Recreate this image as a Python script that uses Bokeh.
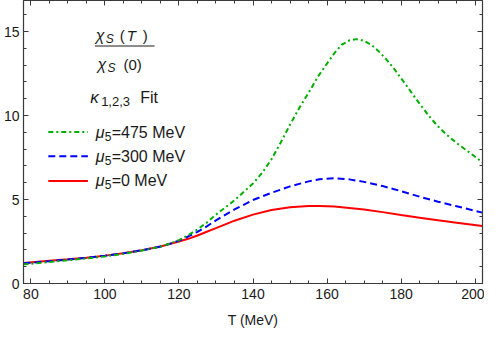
from bokeh.plotting import figure
from bokeh.models import Range1d, LinearAxis, FixedTicker, Label
from bokeh.embed import file_html
from bokeh.resources import INLINE

# ---------------- data ----------------
T_mu0 = [78, 85, 90, 95, 100, 105, 110, 115, 118, 120, 122.5, 125, 127.5, 130,
         135, 140, 145, 150, 155, 158, 162, 166, 170, 175, 180, 185, 190, 195,
         202]
chi_mu0 = [1.22, 1.35, 1.44, 1.54, 1.66, 1.80, 1.98, 2.20, 2.38, 2.50, 2.66,
           2.86, 3.08, 3.30, 3.74, 4.10, 4.38, 4.54, 4.61, 4.62, 4.58, 4.50,
           4.40, 4.25, 4.08, 3.92, 3.76, 3.62, 3.42]

T_mu300 = [78, 85, 90, 95, 100, 105, 110, 115, 118, 120, 122.5, 125, 127.5,
           130, 135, 140, 145, 150, 155, 158, 162, 166, 170, 175, 180, 185, 190,
           195, 202]
chi_mu300 = [1.20, 1.33, 1.43, 1.53, 1.65, 1.80, 1.98, 2.20, 2.40, 2.55, 2.80,
             3.08, 3.40, 3.76, 4.41, 4.97, 5.40, 5.78, 6.08, 6.21, 6.27, 6.20,
             6.05, 5.80, 5.50, 5.17, 4.87, 4.60, 4.22]

T_mu475 = [78, 85, 90, 95, 100, 105, 110, 115, 118, 120, 122.5, 125, 127.5, 130,
           135, 140, 142.5, 145, 147.5, 150, 152.5, 155, 157.5, 160, 162, 164,
           166, 168, 170, 172, 174, 176, 178, 180, 182, 184, 186, 188, 190,
           192, 194, 196, 198, 200, 202]
chi_mu475 = [1.14, 1.28, 1.38, 1.49, 1.61, 1.77, 1.96, 2.19, 2.42, 2.58, 2.88,
             3.22, 3.62, 4.10, 4.95, 5.95, 6.60, 7.40, 8.40, 9.45, 10.45, 11.35,
             12.30, 13.10, 13.72, 14.22, 14.47, 14.55, 14.45, 14.20, 13.82,
             13.35, 12.82, 12.22, 11.62, 11.00, 10.42, 9.85, 9.35, 8.92, 8.55,
             8.20, 7.88, 7.55, 7.20]

x_ticks = [80, 100, 120, 140, 160, 180, 200]
x_minor = [80, 85, 90, 95, 100, 105, 110, 115, 120, 125, 130, 135, 140, 145,
           150, 155, 160, 165, 170, 175, 180, 185, 190, 195, 200]
y_ticks = [0, 5, 10, 15]
y_minor = list(range(0, 17))

legend_values = ["=475 MeV", "=300 MeV", "=0 MeV"]
legend_key_T = [84.7, 95.4]
legend_key_v = [9.02, 7.57, 6.11]

FRAME = "#3a3a3a"
TXT = "#1a1a1a"
FONT = "Liberation Sans"
GREEN, BLUE, RED = "#00AF00", "#0000FF", "#FF0000"
DOTDASH = "5 3 2 3"
DASH = "7 4"

p = figure(width=484, height=330, output_backend="svg", toolbar_location=None,
           x_range=Range1d(78, 202), y_range=Range1d(0, 16.85),
           x_axis_location=None, y_axis_location=None,
           min_border_left=21, min_border_right=2, min_border_top=0,
           min_border_bottom=40)
p.grid.visible = False
p.outline_line_color = FRAME
p.background_fill_color = "white"
p.border_fill_color = "white"


def style_axis(ax, labels=True):
    ax.axis_line_color = FRAME
    ax.axis_line_width = 1.2
    ax.major_tick_line_color = FRAME
    ax.minor_tick_line_color = FRAME
    ax.major_tick_in = 5
    ax.major_tick_out = 0
    ax.minor_tick_in = 3
    ax.minor_tick_out = 0
    ax.major_label_text_font = FONT
    ax.major_label_text_font_size = "14px"
    ax.major_label_text_color = TXT
    if not labels:
        ax.major_label_text_font_size = "0px"
        ax.major_label_text_color = None
        ax.major_label_standoff = 0


bx = LinearAxis(ticker=FixedTicker(ticks=x_ticks, minor_ticks=x_minor),
                axis_label="T (MeV)")
style_axis(bx)
bx.major_label_standoff = 5
bx.axis_label_text_font = FONT
bx.axis_label_text_font_style = "normal"
bx.axis_label_text_font_size = "14px"
bx.axis_label_text_color = TXT
bx.axis_label_standoff = 10
p.add_layout(bx, "below")

tx = LinearAxis(ticker=FixedTicker(ticks=x_ticks, minor_ticks=x_minor))
style_axis(tx, labels=False)
p.add_layout(tx, "above")

ly = LinearAxis(ticker=FixedTicker(ticks=y_ticks, minor_ticks=y_minor))
style_axis(ly)
ly.major_label_standoff = 4
p.add_layout(ly, "left")

ry = LinearAxis(ticker=FixedTicker(ticks=y_ticks, minor_ticks=y_minor))
style_axis(ry, labels=False)
p.add_layout(ry, "right")

# ---------------- curves ----------------
p.line(T_mu0, chi_mu0, line_color=RED, line_width=2)
p.line(T_mu300, chi_mu300, line_color=BLUE, line_width=2, line_dash=DASH)
p.line(T_mu475, chi_mu475, line_color=GREEN, line_width=2, line_dash=DOTDASH)

# ---------------- annotations ----------------


def lab(x, y, text, size, style="normal", xo=0, yo=0):
    p.add_layout(Label(x=x, y=y, x_offset=xo, y_offset=yo, text=text,
                       text_font=FONT, text_font_size=size,
                       text_font_style=style, text_color=TXT,
                       text_align="left", text_baseline="middle"))


# fraction chi_S(T)/chi_S(0)
num_T, num_v = 97.5, 14.78
lab(num_T, num_v, "χ", "16px", "italic")
lab(num_T, num_v, "S", "12px", "italic", xo=10, yo=-4)
lab(num_T, num_v, "(", "15px", xo=24)
lab(num_T, num_v, "T", "15px", "italic", xo=31)
lab(num_T, num_v, ")", "15px", xo=47)
p.line([97.3, 113.4], [14.14, 14.14], line_color=TXT, line_width=1)
den_T, den_v = 98.0, 13.04
lab(den_T, den_v, "χ", "16px", "italic")
lab(den_T, den_v, "S", "12px", "italic", xo=10, yo=-4)
lab(den_T, den_v, "(0)", "15px", xo=26)

# kappa fit line
k_T, k_v = 96.0, 11.06
lab(k_T, k_v, "κ", "17px", "italic")
lab(k_T, k_v, "1,2,3", "13px", xo=11, yo=-4)
lab(k_T, k_v, "Fit", "16px", xo=50)

# legend
for v, txt, col, dash in zip(legend_key_v, legend_values,
                             [GREEN, BLUE, RED],
                             [DOTDASH, DASH, "solid"]):
    p.line(legend_key_T, [v, v], line_color=col, line_width=2, line_dash=dash)
    lab(97.5, v, "μ", "16px", "italic")
    lab(97.5, v, "5", "12px", xo=9, yo=-4)
    lab(97.5, v, txt, "16px", xo=16)

open("out.html", "w").write(file_html(p, INLINE))
